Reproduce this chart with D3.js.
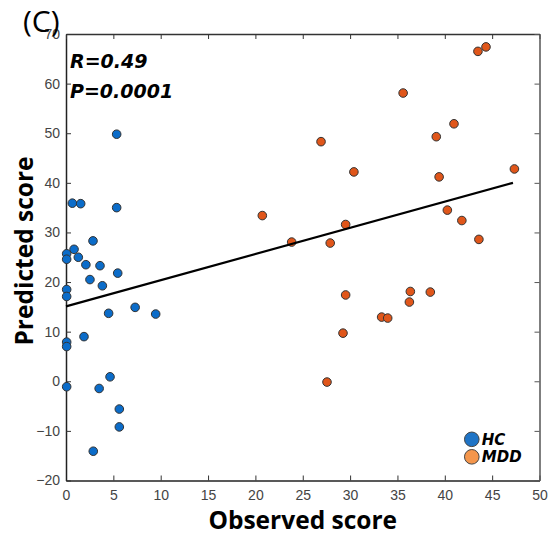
<!DOCTYPE html>
<html>
<head>
<meta charset="utf-8">
<script src="https://cdn.jsdelivr.net/npm/d3@7"></script>
<style>
  body { margin: 0; background: #fff; }
  svg { font-family: "Liberation Sans", Arial, sans-serif; }
</style>
</head>
<body>
<div id="chart"></div>
<script>
// values
var hcX = [5.35, 0.67, 1.55, 5.35, 2.85, 0.85, 0.07, 0.07, 1.3, 2.1, 3.59, 5.46, 2.53, 3.84,
  0.07, 0.07, 4.5, 7.3, 9.47, 1.9, 0.07, 0.07, 4.65, 0.07, 3.5, 5.63, 5.63, 2.88];
var hcY = [49.8, 35.9, 35.8, 35.0, 28.3, 26.6, 25.7, 24.6, 25.0, 23.5, 23.3, 21.8, 20.5, 19.25,
  18.5, 17.1, 13.7, 14.9, 13.55, 9.0, 7.9, 7.0, 0.9, -1.1, -1.45, -5.6, -9.2, -14.1];

var mddX = [20.73, 23.83, 27.9, 29.53, 30.4, 39.4, 40.27, 41.8, 43.6, 47.35, 29.53, 36.36,
  36.26, 38.47, 33.33, 33.97, 29.25, 27.56, 43.5, 44.35, 35.6, 40.97, 39.1, 26.93];
var mddY = [33.4, 28.06, 27.86, 31.6, 42.2, 41.2, 34.5, 32.4, 28.6, 42.8, 17.4, 18.1,
  15.97, 17.98, 12.94, 12.74, 9.7, -0.16, 66.5, 67.4, 58.1, 51.9, 49.3, 48.3];

var fitX = [0, 47.2];
var fitY = [15.1, 40.0];

var xTicks = d3.range(0, 51, 5);
var yTicks = d3.range(-20, 71, 10);
var groups = ["HC", "MDD"];

var svgWidth = 555, svgHeight = 540;
var margin = { top: 34, right: 15.5, bottom: 59.5, left: 66 };
var width = svgWidth - margin.left - margin.right;
var height = svgHeight - margin.top - margin.bottom;

var svg = d3.select("#chart").append("svg")
    .attr("width", svgWidth)
    .attr("height", svgHeight);

var chart = svg.append("g")
    .attr("transform", `translate(${margin.left}, ${margin.top})`);

var x = d3.scaleLinear().domain([0, 50]).range([0, width]);
var y = d3.scaleLinear().domain([-20, 70]).range([height, 0]);

// axes, ticks pointing inside like the original
chart.append("g")
    .attr("transform", `translate(0, ${height})`)
    .call(d3.axisBottom(x).tickValues(xTicks).tickSizeInner(-5).tickSizeOuter(0).tickPadding(10))
    .call(g => g.select(".domain").attr("stroke", "#222").attr("stroke-width", 1.5))
    .call(g => g.selectAll(".tick line").attr("stroke", "#333"))
    .call(g => g.selectAll("text").attr("font-size", 14).attr("fill", "#444"));

chart.append("g")
    .call(d3.axisLeft(y).tickValues(yTicks).tickSizeInner(-5).tickSizeOuter(0).tickPadding(6))
    .call(g => g.select(".domain").attr("stroke", "#222").attr("stroke-width", 1.5))
    .call(g => g.selectAll(".tick line").attr("stroke", "#333"))
    .call(g => g.selectAll("text").attr("font-size", 14).attr("fill", "#444"));

chart.append("g")
    .call(d3.axisTop(x).tickValues(xTicks).tickSizeInner(-5).tickSizeOuter(0).tickFormat(""))
    .call(g => g.select(".domain").attr("stroke", "#333").attr("stroke-width", 1.5))
    .call(g => g.selectAll(".tick line").attr("stroke", "#333"));

chart.append("g")
    .attr("transform", `translate(${width}, 0)`)
    .call(d3.axisRight(y).tickValues(yTicks).tickSizeInner(-5).tickSizeOuter(0).tickFormat(""))
    .call(g => g.select(".domain").attr("stroke", "#555").attr("stroke-width", 1.5))
    .call(g => g.selectAll(".tick line").attr("stroke", "#555"));

// points
var hcData = hcX.map((v, i) => ({ x: v, y: hcY[i] }));
var mddData = mddX.map((v, i) => ({ x: v, y: mddY[i] }));

chart.selectAll(".hc")
    .data(hcData)
    .enter()
    .append("circle")
    .attr("class", "hc")
    .attr("cx", d => x(d.x))
    .attr("cy", d => y(d.y))
    .attr("r", 4.3)
    .attr("fill", "#0b6cc9")
    .attr("stroke", "#333")
    .attr("stroke-width", 1);

chart.selectAll(".mdd")
    .data(mddData)
    .enter()
    .append("circle")
    .attr("class", "mdd")
    .attr("cx", d => x(d.x))
    .attr("cy", d => y(d.y))
    .attr("r", 4.3)
    .attr("fill", "#e0561a")
    .attr("stroke", "#333")
    .attr("stroke-width", 1);

// fit line
chart.append("line")
    .attr("x1", x(fitX[0]))
    .attr("y1", y(fitY[0]))
    .attr("x2", x(fitX[1]))
    .attr("y2", y(fitY[1]))
    .attr("stroke", "#000")
    .attr("stroke-width", 2.2);

// stats text
chart.append("text")
    .attr("x", 4)
    .attr("y", 34)
    .attr("font-family", "DejaVu Sans")
    .attr("font-weight", "bold")
    .attr("font-style", "italic")
    .attr("font-size", 19)
    .text("R=0.49");

chart.append("text")
    .attr("x", 4)
    .attr("y", 64)
    .attr("font-family", "DejaVu Sans")
    .attr("font-weight", "bold")
    .attr("font-style", "italic")
    .attr("font-size", 19)
    .text("P=0.0001");

// legend
var legendColors = ["#1f74c6", "#f4964c"];
var legend = chart.selectAll(".legend")
    .data(groups)
    .enter()
    .append("g")
    .attr("class", "legend")
    .attr("transform", (d, i) => `translate(${x(42.85)}, ${y(-11.7) + i * 17.5})`);

legend.append("circle")
    .attr("r", 7.3)
    .attr("fill", (d, i) => legendColors[i])
    .attr("stroke", "#444")
    .attr("stroke-width", 1);

legend.append("text")
    .attr("x", 10)
    .attr("y", 5.5)
    .attr("font-family", "DejaVu Sans")
    .attr("font-style", "italic")
    .attr("font-weight", "bold")
    .attr("font-size", 15)
    .text(d => d);

// axis labels
svg.append("text")
    .attr("transform", `translate(33, 251) rotate(-90)`)
    .attr("text-anchor", "middle")
    .attr("font-family", "Open Sans")
    .attr("font-weight", "bold")
    .attr("font-size", 24.5)
    .text("Predicted score");

svg.append("text")
    .attr("x", margin.left + width / 2)
    .attr("y", 529)
    .attr("text-anchor", "middle")
    .attr("font-family", "Open Sans")
    .attr("font-weight", "bold")
    .attr("font-size", 24.5)
    .text("Observed score");

svg.append("text")
    .attr("x", 23)
    .attr("y", 32)
    .attr("font-family", "Open Sans")
    .attr("font-size", 30)
    .text("(C)");
</script>
</body>
</html>
